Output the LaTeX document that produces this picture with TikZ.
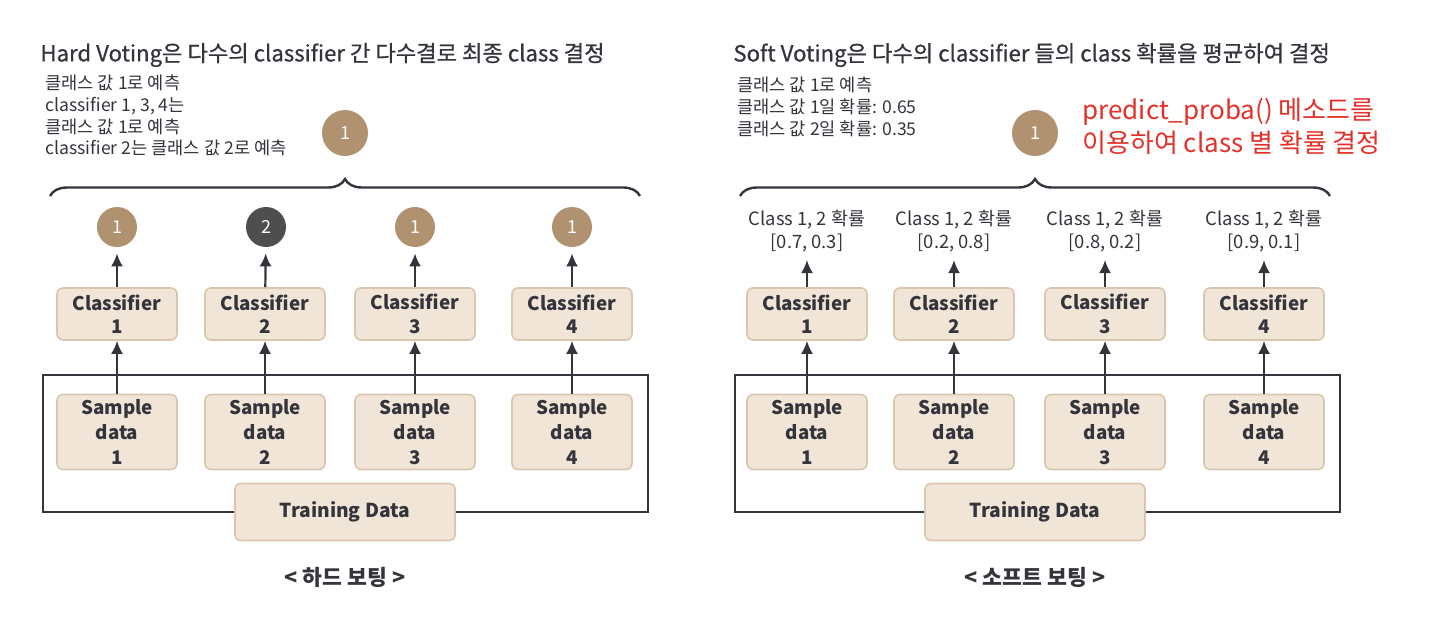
\documentclass[tikz,border=0pt]{standalone}
\usepackage{fontspec}
\setmainfont{Noto Sans CJK KR}
\newfontfamily\ttlfont{Noto Sans CJK KR}[FakeBold=0.7]
\usepackage{tikz}
\usetikzlibrary{arrows.meta,positioning,calc,decorations.pathreplacing}

\definecolor{boxfill}{RGB}{241,229,215}
\definecolor{boxline}{RGB}{218,198,172}
\definecolor{vote}{RGB}{176,146,112}
\definecolor{votedark}{RGB}{78,78,80}
\definecolor{ink}{RGB}{52,52,60}
\definecolor{redtxt}{RGB}{228,48,40}

\begin{document}
\begin{tikzpicture}[x=0.5pt,y=-0.5pt,every node/.style={text=ink},
  clf/.style={draw=boxline,line width=0.8pt,fill=boxfill,rounded corners=3pt,minimum width=60pt,minimum height=26pt,align=center,font=\fontsize{9.4}{11.8}\selectfont\bfseries,inner sep=1pt},
  smp/.style={clf,minimum height=37.5pt,font=\fontsize{9.4}{12.5}\selectfont\bfseries},
  trn/.style={clf,minimum width=110pt,minimum height=28.5pt,font=\fontsize{9.6}{11}\selectfont\bfseries},
  ball/.style={circle,fill=vote,minimum size=20pt,inner sep=0pt,text=white,font=\fontsize{9}{9}\selectfont},
  prob/.style={align=center,font=\fontsize{9.2}{11.2}\selectfont,inner sep=0pt},
  note/.style={align=left,anchor=north west,font=\fontsize{8.8}{10.8}\selectfont,inner sep=0pt},
  ttl/.style={anchor=west,font=\ttlfont\fontsize{11.1}{13}\selectfont,inner sep=0pt},
  caption/.style={font=\fontsize{10.8}{12}\selectfont\bfseries,inner sep=0pt},
  frame/.style={draw=ink,line width=1.1pt},
  arr/.style={draw=ink,line width=1.1pt,-{Latex[length=6.5pt,width=6pt]}},
  brc/.style={draw=ink,line width=1.2pt,decorate,decoration={brace,amplitude=8.5pt}}]
\useasboundingbox (0,0) rectangle (1430,616);

% hard voting
\node[ttl] (httl) at (40,55) {Hard Voting은 다수의 classifier 간 다수결로 최종 class 결정};
\node[note] (hnote) at (45,75) {클래스 값 1로 예측\\classifier 1, 3, 4는\\클래스 값 1로 예측\\classifier 2는 클래스 값 2로 예측};
\node[ball,minimum size=23pt] (hvote) at (345,133) {1};
\coordinate (hbl) at (50,196); \coordinate (hbr) at (640,196);
\draw[brc] (hbl) -- (hbr);
\node[ball] (hv1) at (117,227) {1};
\node[ball,fill=votedark] (hv2) at (266,227) {2};
\node[ball] (hv3) at (415,227) {1};
\node[ball] (hv4) at (572,227) {1};
\node[clf] (hc1) at (117,314) {Classifier\\1};
\node[clf] (hc2) at (265,314) {Classifier\\2};
\node[clf] (hc3) at (415,314) {Classifier\\3};
\node[clf] (hc4) at (572,314) {Classifier\\4};
\coordinate (hl) at (43,375); \coordinate (hr) at (648,375);
\node[trn] (htrain) at (345,512) {Training Data};
\draw[frame] (htrain.west) -| (hl) -- (hr) |- (htrain.east);
\node[smp] (hs1) at (117,432) {Sample\\data\\1};
\node[smp] (hs2) at (265,432) {Sample\\data\\2};
\node[smp] (hs3) at (415,432) {Sample\\data\\3};
\node[smp] (hs4) at (572,432) {Sample\\data\\4};
\draw[arr] (hs1) -- (hc1); \draw[arr] (hs2) -- (hc2);
\draw[arr] (hs3) -- (hc3); \draw[arr] (hs4) -- (hc4);
\draw[arr,shorten >=3pt] (hc1) -- (hv1); \draw[arr,shorten >=3pt] (hc2) -- (hv2);
\draw[arr,shorten >=3pt] (hc3) -- (hv3); \draw[arr,shorten >=3pt] (hc4) -- (hv4);
\node[caption] (hcap) at (345,577) {< 하드 보팅 >};

% soft voting
\node[ttl] (sttl) at (733,55) {Soft Voting은 다수의 classifier 들의 class 확률을 평균하여 결정};
\node[note] (snote) at (737,77) {클래스 값 1로 예측\\클래스 값 1일 확률: 0.65\\클래스 값 2일 확률: 0.35};
\node[ball,minimum size=23pt] (svote) at (1035,133) {1};
\node[align=left,anchor=west,text=redtxt,font=\fontsize{13}{16.5}\selectfont,inner sep=0pt] (sred) at (1082,126) {predict\_proba() 메소드를\\이용하여 class 별 확률 결정};
\coordinate (sbl) at (740,196); \coordinate (sbr) at (1330,196);
\draw[brc] (sbl) -- (sbr);
\node[prob] (sp1) at (807,231) {Class 1, 2 확률\\{[0.7, 0.3]}};
\node[prob] (sp2) at (954,231) {Class 1, 2 확률\\{[0.2, 0.8]}};
\node[prob] (sp3) at (1105,231) {Class 1, 2 확률\\{[0.8, 0.2]}};
\node[prob] (sp4) at (1264,231) {Class 1, 2 확률\\{[0.9, 0.1]}};
\node[clf] (sc1) at (807,314) {Classifier\\1};
\node[clf] (sc2) at (954,314) {Classifier\\2};
\node[clf] (sc3) at (1105,314) {Classifier\\3};
\node[clf] (sc4) at (1264,314) {Classifier\\4};
\coordinate (sl) at (735,375); \coordinate (sr) at (1340,375);
\node[trn] (strain) at (1035,512) {Training Data};
\draw[frame] (strain.west) -| (sl) -- (sr) |- (strain.east);
\node[smp] (ss1) at (807,432) {Sample\\data\\1};
\node[smp] (ss2) at (954,432) {Sample\\data\\2};
\node[smp] (ss3) at (1105,432) {Sample\\data\\3};
\node[smp] (ss4) at (1264,432) {Sample\\data\\4};
\draw[arr] (ss1) -- (sc1); \draw[arr] (ss2) -- (sc2);
\draw[arr] (ss3) -- (sc3); \draw[arr] (ss4) -- (sc4);
\draw[arr,shorten >=4pt] (sc1) -- (sp1); \draw[arr,shorten >=4pt] (sc2) -- (sp2);
\draw[arr,shorten >=4pt] (sc3) -- (sp3); \draw[arr,shorten >=4pt] (sc4) -- (sp4);
\node[caption] (scap) at (1035,577) {< 소프트 보팅 >};
\end{tikzpicture}
\end{document}
